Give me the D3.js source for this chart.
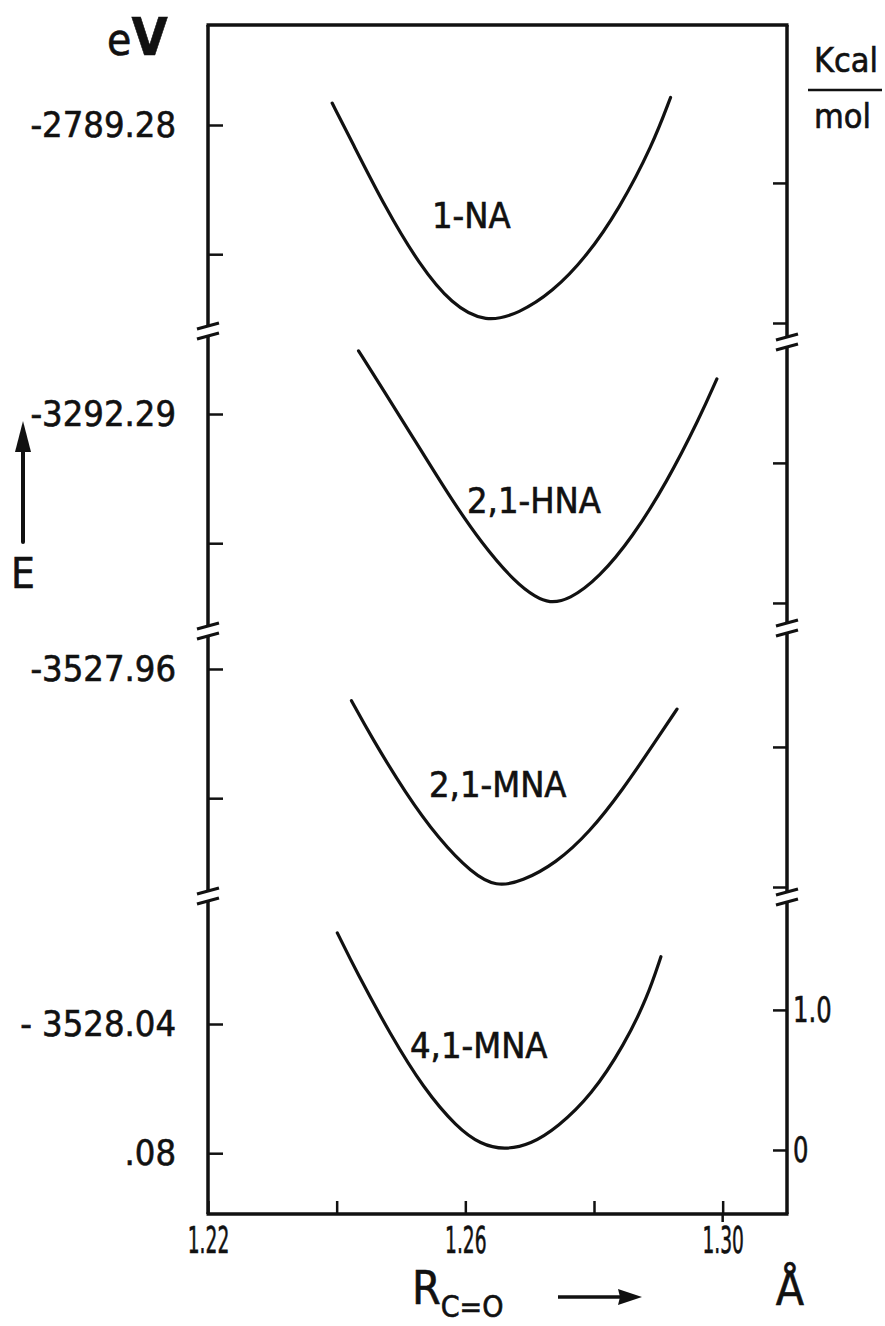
<!DOCTYPE html>
<html>
<head>
<meta charset="utf-8">
<script src="https://cdn.jsdelivr.net/npm/d3@7"></script>
<style>
  html, body { margin: 0; padding: 0; background: #fff; }
  svg { display: block; }
  text {
    font-family: "DejaVu Sans Condensed", "Liberation Sans Narrow", sans-serif;
    fill: #111; stroke: #111; stroke-width: 0.6px;
  }
</style>
</head>
<body>
<div id="chart"></div>
<script>
// molecules, one panel each (top to bottom)
const molecules = ["1-NA", "2,1-HNA", "2,1-MNA", "4,1-MNA"];

// total energy at the minimum of each curve (eV)
const eMin = [-2789.3413, -3292.3485, -3528.0275, -3528.0790];
// energy at the top edge of each panel (eV)
const eTop = [-2789.24904, -3292.26554, -3527.94793, -3528.00037];

// left axis ticks (eV) and their labels
const leftTicks = [
  [-2789.28, -2789.32],
  [-3292.29, -3292.33],
  [-3527.96, -3528.00],
  [-3528.04, -3528.08]
];
const leftLabels = [
  ["-2789.28", ""],
  ["-3292.29", ""],
  ["-3527.96", ""],
  ["- 3528.04", ".08"]
];

// right axis ticks, kcal/mol above each minimum
const rightTicks = [0, 1];
const rightLabels = ["0", "1.0"]; // only on the lowest panel

// x axis
const xTicks = [1.22, 1.24, 1.26, 1.28, 1.30];
const xLabels = ["1.22", "", "1.26", "", "1.30"];

// curves: R(C=O) in Å, relative energy in kcal/mol
const na1R = [1.2393, 1.2423, 1.2476, 1.2528, 1.2579, 1.2632, 1.2684, 1.2735, 1.2788, 1.2840, 1.2891, 1.2919];
const na1E = [1.57, 1.30, 0.82, 0.42, 0.13, 0.00, 0.07, 0.22, 0.47, 0.82, 1.27, 1.61];

const hna21R = [1.2434, 1.2470, 1.2523, 1.2574, 1.2626, 1.2679, 1.2710, 1.2730, 1.2761, 1.2808, 1.2860, 1.2913, 1.2964, 1.2991];
const hna21E = [1.80, 1.54, 1.15, 0.77, 0.42, 0.14, 0.04, 0.00, 0.02, 0.18, 0.47, 0.86, 1.32, 1.60];

const mna21R = [1.2423, 1.2454, 1.2507, 1.2559, 1.2610, 1.2648, 1.2688, 1.2741, 1.2793, 1.2844, 1.2897, 1.2929];
const mna21E = [1.33, 1.07, 0.67, 0.34, 0.10, 0.00, 0.04, 0.17, 0.39, 0.69, 1.05, 1.27];

const mna41R = [1.2401, 1.2431, 1.2484, 1.2535, 1.2587, 1.2624, 1.2660, 1.2702, 1.2743, 1.2796, 1.2847, 1.2883, 1.2904];
const mna41E = [1.55, 1.27, 0.82, 0.44, 0.16, 0.04, 0.00, 0.04, 0.16, 0.39, 0.75, 1.09, 1.38];

const curveR = [na1R, hna21R, mna21R, mna41R];
const curveE = [na1E, hna21E, mna21E, mna41E];

const KCAL_TO_EV = 0.0433641;

// ---- layout ----
const width = 885;
const height = 1326;
const frameL = 208, frameR = 787, frameT = 25, frameB = 1214;
const pxPerEv = 3230;
const panelTops = [frameT, 335, 630, 896];
const panelBottoms = [335, 630, 896, frameB];
const breaksLeft = [331, 631, 896];
const breaksRight = [342, 628, 897];
const labelPos = [[432, 228], [467, 513], [429, 797], [410, 1058]];

const svg = d3.select("#chart")
  .append("svg")
  .attr("width", width)
  .attr("height", height);

const x = d3.scaleLinear().domain([1.22, 1.31]).range([frameL, frameR]);

const yScales = panelTops.map((t, i) => {
  const b = panelBottoms[i];
  return d3.scaleLinear()
    .domain([eTop[i], eTop[i] - (b - t) / pxPerEv])
    .range([t, b]);
});

const lineGen = d3.line().curve(d3.curveBasis);

// frame top
svg.append("line")
  .attr("x1", frameL - 1.5).attr("x2", frameR + 1.5)
  .attr("y1", frameT).attr("y2", frameT)
  .attr("stroke", "#111").attr("stroke-width", 3.5);

// bottom axis, ticks pointing up
const xAxis = svg.append("g")
  .attr("transform", `translate(0,${frameB})`)
  .call(d3.axisBottom(x)
    .tickValues(xTicks)
    .tickSize(-13)
    .tickPadding(13)
    .tickFormat((d, i) => xLabels[i]));
xAxis.select(".domain").remove();
xAxis.selectAll(".tick line").attr("stroke", "#111").attr("stroke-width", 2.5);
// narrow lettering as in the original
xAxis.selectAll(".tick text")
  .style("font-size", "37px")
  .attr("transform", "scale(0.56,1)");
xAxis.append("line")
  .attr("x1", frameL - 1.5).attr("x2", frameR + 1.5)
  .attr("y1", 0).attr("y2", 0)
  .attr("stroke", "#111").attr("stroke-width", 3.5);
// the 1.30 tick crosses the axis
svg.append("line")
  .attr("x1", x(1.30)).attr("x2", x(1.30))
  .attr("y1", frameB).attr("y2", frameB + 8)
  .attr("stroke", "#111").attr("stroke-width", 2.5);

// vertical axes with breaks
function verticalAxis(xPos, breaks) {
  const stops = [frameT].concat(breaks.flatMap(b => [b - 5, b + 5])).concat([frameB]);
  for (let i = 0; i < stops.length; i += 2) {
    svg.append("line")
      .attr("x1", xPos).attr("x2", xPos)
      .attr("y1", stops[i]).attr("y2", stops[i + 1])
      .attr("stroke", "#111").attr("stroke-width", 3.5);
  }
  breaks.forEach(b => {
    [b - 5, b + 5].forEach(yy => {
      svg.append("line")
        .attr("x1", xPos - 11).attr("x2", xPos + 11)
        .attr("y1", yy + 3).attr("y2", yy - 3)
        .attr("stroke", "#111").attr("stroke-width", 3.2);
    });
  });
}
verticalAxis(frameL, breaksLeft);
verticalAxis(frameR, breaksRight);

// per-panel ticks, curves, labels
molecules.forEach((name, i) => {
  const y = yScales[i];

  const gl = svg.append("g")
    .attr("transform", `translate(${frameL},0)`)
    .call(d3.axisLeft(y)
      .tickValues(leftTicks[i])
      .tickSize(-15)
      .tickPadding(32)
      .tickFormat((d, j) => leftLabels[i][j]));
  gl.select(".domain").remove();
  gl.selectAll(".tick line").attr("stroke", "#111").attr("stroke-width", 2.5);
  gl.selectAll(".tick text").style("font-size", "36px");

  const rightVals = rightTicks.map(k => eMin[i] + k * KCAL_TO_EV);
  const gr = svg.append("g")
    .attr("transform", `translate(${frameR},0)`)
    .call(d3.axisRight(y)
      .tickValues(rightVals)
      .tickSize(-14)
      .tickPadding(8)
      .tickFormat((d, j) => i === molecules.length - 1 ? rightLabels[j] : ""));
  gr.select(".domain").remove();
  gr.selectAll(".tick line").attr("stroke", "#111").attr("stroke-width", 2.5);
  gr.selectAll(".tick text")
    .style("font-size", "36px")
    .attr("transform", "scale(0.75,1)");

  const pts = curveR[i].map((r, j) => [x(r), y(eMin[i] + curveE[i][j] * KCAL_TO_EV)]);
  svg.append("path")
    .attr("d", lineGen(pts))
    .attr("fill", "none")
    .attr("stroke", "#111")
    .attr("stroke-width", 3.2)
    .attr("stroke-linecap", "round");

  svg.append("text")
    .attr("x", labelPos[i][0])
    .attr("y", labelPos[i][1])
    .style("font-size", "36px")
    .text(name);
});

// unit labels
const ev = svg.append("text").attr("x", 107).attr("y", 55);
ev.append("tspan").style("font-size", "44px").text("e");
ev.append("tspan").style("font-size", "52px").style("font-weight", "bold").text("V");

svg.append("text").attr("x", 814).attr("y", 72).style("font-size", "34px").text("Kcal");
svg.append("line")
  .attr("x1", 808).attr("x2", 882).attr("y1", 90).attr("y2", 90)
  .attr("stroke", "#111").attr("stroke-width", 2.5);
svg.append("text").attr("x", 814).attr("y", 128).style("font-size", "34px").text("mol");

// E with upward arrow
svg.append("line")
  .attr("x1", 23).attr("x2", 23).attr("y1", 542).attr("y2", 446)
  .attr("stroke", "#111").attr("stroke-width", 4).attr("stroke-linecap", "round");
svg.append("path")
  .attr("d", "M23,421 L15,452 L31,452 Z")
  .attr("fill", "#111");
svg.append("text").attr("x", 11).attr("y", 588).style("font-size", "42px").text("E");

// x axis title
const rt = svg.append("text").attr("x", 412).attr("y", 1304);
rt.append("tspan").style("font-size", "46px").text("R");
rt.append("tspan").attr("dy", 13).style("font-size", "30px").text("C=O");
svg.append("line")
  .attr("x1", 558).attr("x2", 622).attr("y1", 1297).attr("y2", 1297)
  .attr("stroke", "#111").attr("stroke-width", 3.5);
svg.append("path")
  .attr("d", "M642,1297 L618,1289 L620,1297 L618,1305 Z")
  .attr("fill", "#111");
svg.append("text").attr("x", 790).attr("y", 1305)
  .attr("text-anchor", "middle")
  .style("font-size", "46px").text("Å");
</script>
</body>
</html>
